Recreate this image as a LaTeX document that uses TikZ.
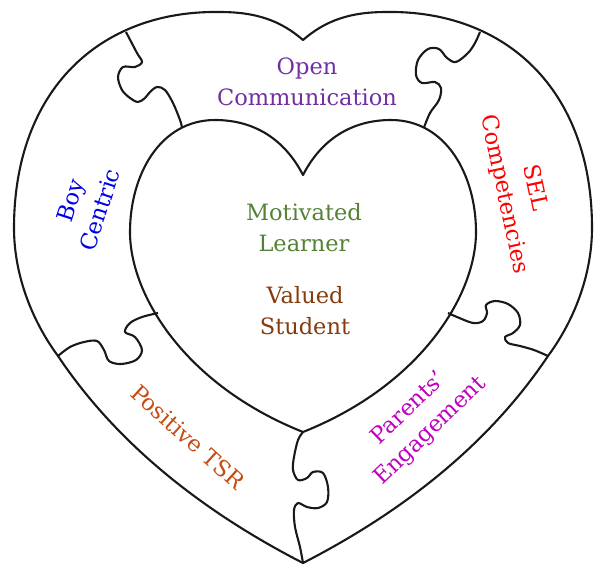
\documentclass[tikz,border=0pt]{standalone}
\usepackage{fontspec}
\setmainfont{DejaVu Serif}

\definecolor{opencol}{RGB}{112,48,160}
\definecolor{motivcol}{RGB}{84,130,53}
\definecolor{valuedcol}{RGB}{132,60,12}
\definecolor{boycol}{RGB}{0,0,230}
\definecolor{selcol}{RGB}{255,0,0}
\definecolor{tsrcol}{RGB}{197,75,17}
\definecolor{parentcol}{RGB}{192,0,192}

\begin{document}
\begin{tikzpicture}[x=1pt, y=-1pt,
  line/.style={line width=2.1pt, draw=black!90, line join=round},
  cut/.style={line, smooth, tension=0.55},
  lbl/.style={font=\fontsize{22.5}{31}\selectfont, align=center, inner sep=0pt}]
\useasboundingbox (0,0) rectangle (603,574);

% Outer heart
\draw[line] (220,12) .. controls (100,10) and (14,90) .. (14,228)
  .. controls (14,272) and (30,318) .. (58,356)
  .. controls (113,438) and (194,507) .. (303,563)
  .. controls (412,507) and (493,438) .. (548,356)
  .. controls (576,318) and (592,272) .. (592,228)
  .. controls (592,90) and (506,10) .. (386,12)
  .. controls (351,12) and (326,20) .. (303,40)
  .. controls (280,20) and (255,12) .. (220,12) -- cycle;

% Inner heart
\draw[line] (215,120) .. controls (160,120) and (130,175) .. (130,232)
  .. controls (130,295) and (185,385) .. (303,432)
  .. controls (421,385) and (476,295) .. (476,232)
  .. controls (476,175) and (446,120) .. (391,120)
  .. controls (351,120) and (321,140) .. (303,175)
  .. controls (285,140) and (255,120) .. (215,120) -- cycle;

% Puzzle cuts
\draw[cut] plot coordinates {(126,32) (137,53) (142,62) (135,67) (123,67)
  (118,77) (122,90) (130,98) (138,102) (145,98) (150,92) (157,87) (165,90)
  (173,103) (180,120) (182,127.5)}; % top left
\draw[cut] plot coordinates {(480,32) (475,43) (468,53) (456,62) (447,58)
  (439,49) (428,49) (418,60) (416,75) (422,83) (435,82) (441,88) (439,100)
  (430,113) (424,127.5)}; % top right
\draw[cut] plot coordinates {(158,313) (142,317) (130,323) (125,332) (135,337)
  (142,350) (136,360) (121,364) (109,361) (104,350) (97,341) (84,342)
  (70,347) (58,356)}; % bottom left
\draw[cut] plot coordinates {(448,313) (457,317) (473,323) (483,321) (487,313)
  (486,305) (495,301) (508,304) (518,313) (520,325) (513,333) (505,337)
  (508,343) (520,346) (534,350) (548,356)}; % bottom right
\draw[cut] plot coordinates {(303,432) (298,440) (294,457) (293,470) (298,480)
  (307,478) (313,472) (323,473) (328,487) (327,502) (318,508) (307,507)
  (298,503) (294,510) (295,527) (300,547) (303,563)}; % bottom

% Labels
\node[lbl, text=opencol] (open) at (307,82) {Open\\Communication};
\node[lbl, text=motivcol] (motiv) at (304,228) {Motivated\\Learner};
\node[lbl, text=valuedcol] (valued) at (305,311) {Valued\\Student};
\node[lbl, text=boycol, rotate=72] (boy) at (85,205) {Boy\\Centric};
\node[lbl, text=selcol, rotate=-78] (sel) at (519,191) {SEL\\Competencies};
\node[lbl, text=tsrcol, rotate=-42] (tsr) at (188,437) {Positive TSR};
\node[lbl, text=parentcol, rotate=44] (parents) at (420,420) {Parents’\\Engagement};
\end{tikzpicture}
\end{document}
